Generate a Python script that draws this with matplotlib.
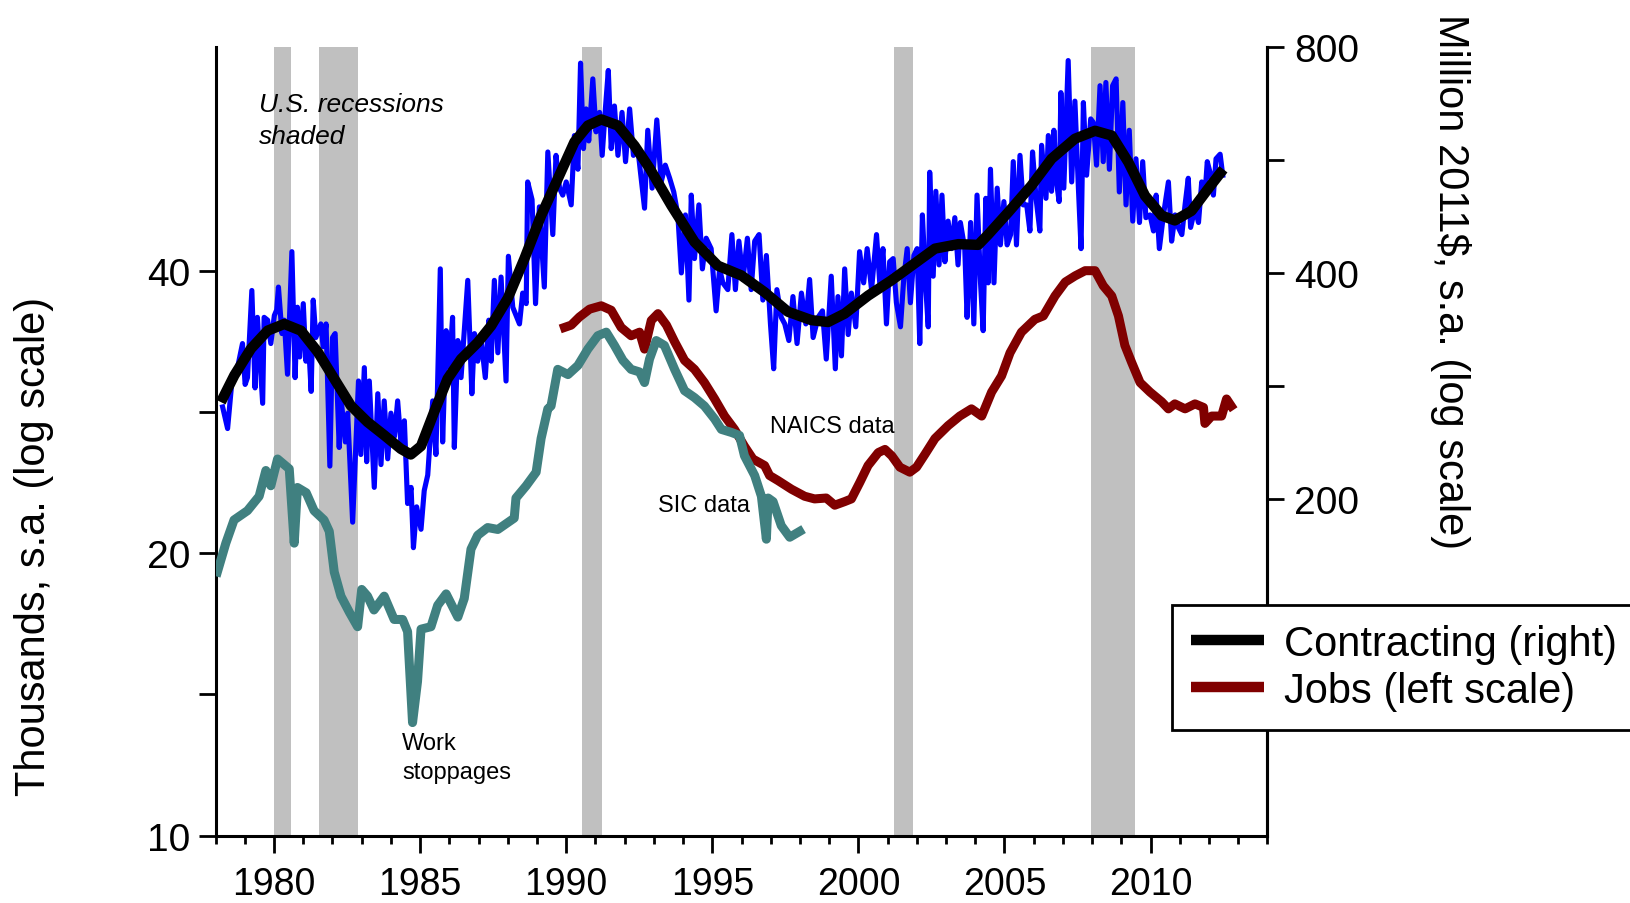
import matplotlib
matplotlib.use('Agg')
import matplotlib.pyplot as plt
from matplotlib.lines import Line2D
from matplotlib.ticker import NullLocator

plt.rcParams['font.family'] = ['Liberation Sans', 'DejaVu Sans']

# U.S. recessions (shaded)
rec_start = [1980.0, 1981.55, 1990.54, 2001.21, 2007.96]
rec_end = [1980.58, 1982.88, 1991.22, 2001.87, 2009.47]

# Jobs, SIC data (thousands, left scale)
sic_yr = [1978.06, 1978.35, 1978.63, 1979.09, 1979.49, 1979.72, 1979.89, 1980.12, 1980.52,
          1980.69, 1980.8, 1981.1, 1981.37, 1981.71, 1981.89, 1982.06, 1982.29, 1982.58,
          1982.86, 1983.0, 1983.2, 1983.42, 1983.77, 1984.11, 1984.4, 1984.57, 1984.74,
          1984.91, 1985.03, 1985.37, 1985.6, 1985.89, 1986.29, 1986.51, 1986.74, 1986.97,
          1987.31, 1987.66, 1988.22, 1988.28, 1988.63, 1988.97, 1989.14, 1989.37, 1989.48,
          1989.71, 1990.06, 1990.4, 1990.74, 1991.08, 1991.37, 1991.65, 1991.94, 1992.22,
          1992.51, 1992.68, 1992.85, 1993.08, 1993.36, 1993.71, 1994.05, 1994.39, 1994.73,
          1995.08, 1995.31, 1995.65, 1995.93, 1996.1, 1996.45, 1996.68, 1996.85, 1996.91,
          1997.08, 1997.36, 1997.65, 1997.99]
sic_val = [19.1, 20.5, 21.7, 22.2, 23.0, 24.5, 23.6, 25.2, 24.6,
           20.5, 23.5, 23.2, 22.2, 21.7, 21.1, 19.1, 18.0, 17.3,
           16.7, 18.3, 18.0, 17.4, 18.0, 17.0, 17.0, 16.5, 13.2,
           14.6, 16.6, 16.7, 17.6, 18.1, 17.1, 17.9, 20.2, 20.9,
           21.3, 21.2, 21.8, 22.9, 23.6, 24.4, 26.5, 28.5, 28.7,
           31.4, 31.0, 31.7, 33.0, 34.1, 34.4, 33.3, 32.1, 31.4,
           31.2, 30.4, 32.2, 33.7, 33.3, 31.4, 29.8, 29.3, 28.7,
           27.8, 27.1, 26.9, 26.7, 25.4, 24.2, 23.0, 20.7, 22.9,
           22.7, 21.4, 20.8, 21.1]

# Jobs, NAICS data (thousands, left scale)
naics_yr = [1989.94, 1990.17, 1990.45, 1990.8, 1991.2, 1991.54, 1991.88, 1992.22, 1992.51,
            1992.68, 1992.91, 1993.14, 1993.43, 1993.71, 1994.05, 1994.39, 1994.73, 1995.08,
            1995.42, 1995.76, 1996.1, 1996.39, 1996.79, 1996.96, 1997.25, 1997.71, 1998.16,
            1998.5, 1998.9, 1999.19, 1999.53, 1999.76, 2000.05, 2000.33, 2000.68, 2000.91,
            2001.14, 2001.42, 2001.76, 2001.99, 2002.28, 2002.62, 2003.07, 2003.47, 2003.87,
            2004.22, 2004.56, 2004.9, 2005.19, 2005.58, 2006.04, 2006.33, 2006.73, 2007.08,
            2007.42, 2007.76, 2008.1, 2008.38, 2008.67, 2008.9, 2009.12, 2009.35, 2009.64,
            2009.98, 2010.38, 2010.61, 2010.83, 2011.18, 2011.52, 2011.81, 2011.86, 2012.09,
            2012.43, 2012.6, 2012.76]
naics_val = [34.8, 35.0, 35.7, 36.4, 36.7, 36.3, 34.8, 34.1, 34.4,
             33.0, 35.4, 36.0, 35.0, 33.6, 32.1, 31.4, 30.4, 29.2,
             28.0, 27.1, 26.0, 25.2, 24.8, 24.2, 23.9, 23.4, 23.0,
             22.85, 22.9, 22.5, 22.7, 22.85, 23.8, 24.8, 25.6, 25.8,
             25.4, 24.7, 24.4, 24.7, 25.5, 26.5, 27.35, 28.0, 28.5,
             28.0, 29.7, 30.9, 32.7, 34.4, 35.5, 35.8, 37.6, 38.9,
             39.5, 40.0, 40.0, 38.55, 37.6, 35.8, 33.3, 31.95, 30.4,
             29.7, 29.0, 28.5, 28.85, 28.5, 28.85, 28.6, 27.5, 28.0,
             28.0, 29.2, 28.7]

# Contracting, monthly (million 2011$, right scale)
blue_yr = [1978.24, 1978.41, 1978.58, 1978.75, 1978.92, 1979.01, 1979.09, 1979.24, 1979.35,
           1979.43, 1979.61, 1979.66, 1979.78, 1979.89, 1980.01, 1980.09, 1980.15, 1980.27,
           1980.35, 1980.46, 1980.61, 1980.72, 1980.8, 1980.88, 1981.0, 1981.09, 1981.17,
           1981.27, 1981.34, 1981.43, 1981.6, 1981.68, 1981.78, 1981.91, 1982.0, 1982.09,
           1982.23, 1982.29, 1982.44, 1982.52, 1982.69, 1982.89, 1982.97, 1983.09, 1983.17,
           1983.26, 1983.43, 1983.55, 1983.66, 1983.77, 1983.89, 1984.0, 1984.12, 1984.23,
           1984.34, 1984.46, 1984.57, 1984.69, 1984.77, 1984.88, 1985.03, 1985.14, 1985.26,
           1985.43, 1985.54, 1985.69, 1985.77, 1985.89, 1986.0, 1986.11, 1986.17, 1986.29,
           1986.4, 1986.63, 1986.77, 1986.86, 1986.97, 1987.09, 1987.23, 1987.35, 1987.43,
           1987.54, 1987.66, 1987.77, 1987.94, 1988.02, 1988.17, 1988.4, 1988.51, 1988.63,
           1988.68, 1988.83, 1988.95, 1989.08, 1989.25,
           1989.37, 1989.54, 1989.65, 1989.77, 1989.88, 1990.0, 1990.17, 1990.28, 1990.4,
           1990.49, 1990.59, 1990.68, 1990.77, 1990.91, 1991.02, 1991.14, 1991.23, 1991.34,
           1991.44, 1991.54, 1991.65, 1991.77, 1991.91, 1992.03, 1992.17, 1992.3, 1992.45,
           1992.68, 1992.79, 1992.94, 1993.1, 1993.25, 1993.39, 1993.54, 1993.68, 1993.82,
           1993.94, 1994.08, 1994.2, 1994.28, 1994.39, 1994.54, 1994.66, 1994.79, 1994.96,
           1995.13, 1995.25, 1995.36, 1995.53, 1995.67, 1995.79, 1995.91, 1996.05, 1996.2,
           1996.33, 1996.45, 1996.6, 1996.73, 1996.85, 1996.99, 1997.1, 1997.21, 1997.36,
           1997.48, 1997.62, 1997.76, 1997.9, 1998.05, 1998.2, 1998.33, 1998.45, 1998.62,
           1998.77, 1998.9, 1999.07, 1999.21, 1999.3, 1999.42, 1999.53, 1999.65, 1999.76,
           1999.91, 2000.04, 2000.18, 2000.3, 2000.45, 2000.62, 2000.73, 2000.84, 2000.96,
           2001.07, 2001.19, 2001.3, 2001.44, 2001.55, 2001.67, 2001.78, 2001.9, 2002.01,
           2002.1, 2002.19, 2002.31, 2002.39, 2002.44, 2002.56, 2002.65, 2002.76, 2002.86,
           2002.96, 2003.07, 2003.19, 2003.3, 2003.41, 2003.49, 2003.64, 2003.72, 2003.84,
           2003.95, 2004.06, 2004.18, 2004.27, 2004.36, 2004.44, 2004.52, 2004.64, 2004.75,
           2004.86, 2004.98, 2005.09, 2005.21, 2005.3, 2005.41, 2005.53, 2005.64, 2005.76,
           2005.87, 2005.96, 2006.08, 2006.21, 2006.27, 2006.42, 2006.5, 2006.61, 2006.69,
           2006.78, 2006.87, 2006.93, 2007.03, 2007.18, 2007.3, 2007.41, 2007.53, 2007.62,
           2007.7, 2007.81, 2007.95, 2008.04, 2008.15, 2008.27, 2008.38, 2008.47, 2008.59,
           2008.7, 2008.82, 2008.93, 2009.05, 2009.16, 2009.27, 2009.39, 2009.5, 2009.62,
           2009.73, 2009.84, 2009.98, 2010.1, 2010.19, 2010.3, 2010.44, 2010.61, 2010.72,
           2010.84, 2010.95, 2011.07, 2011.18, 2011.29, 2011.37, 2011.52, 2011.64, 2011.75,
           2011.87, 2011.94, 2012.06, 2012.15, 2012.24, 2012.38, 2012.47]
blue_val = [265, 248, 293, 299, 322, 284, 290, 379, 281,
            349, 268, 349, 346, 322, 351, 357, 383, 332,
            346, 293, 427, 290, 360, 309, 364, 305, 328,
            278, 368, 328, 342, 319, 342, 221, 328, 332,
            234, 273, 238, 260, 186, 287, 229, 299, 224,
            287, 207, 276, 222, 270, 226, 260, 242, 270,
            238, 254, 197, 207, 172, 195, 182, 205, 215,
            270, 229, 405, 238, 335, 299, 349, 234, 325,
            290, 391, 276, 332, 305, 325, 290, 346, 305,
            391, 313, 395, 287, 421, 360, 342, 376, 364,
            529, 501, 364, 490, 383,
            580, 450, 574, 519, 508, 529, 493, 610, 550,
            762, 586, 662, 600, 726, 617, 655, 574, 662,
            745, 586, 668, 574, 655, 563, 662, 574, 586,
            488, 620, 519, 640, 529, 557, 535, 513, 478,
            400, 478, 368, 508, 418, 493, 405, 445, 431,
            356, 405, 388, 380, 450, 380, 441, 392, 445,
            380, 441, 450, 368, 422, 342, 298, 380, 349,
            342, 325, 372, 322, 376, 342, 392, 328, 349,
            356, 307, 396, 298, 372, 310, 405, 331, 376,
            339, 427, 388, 431, 380, 450, 388, 431, 342,
            414, 418, 365, 339, 392, 431, 365, 422, 431,
            322, 478, 380, 339, 545, 396, 514, 410, 508,
            414, 469, 431, 474, 410, 467, 431, 349, 467,
            342, 508, 388, 335, 503, 388, 550, 388, 519,
            436, 498, 436, 450, 563, 436, 574, 493, 493,
            455, 580, 503, 455, 592, 503, 610, 514, 620,
            529, 498, 696, 519, 768, 529, 678, 519, 431,
            675, 540, 642, 635, 557, 711, 563, 718, 550,
            711, 726, 513, 675, 493, 620, 469, 568, 467,
            563, 474, 478, 455, 508, 431, 478, 529, 441,
            478, 460, 450, 493, 535, 460, 488, 467, 529,
            514, 563, 540, 508, 568, 576, 540]

# Contracting, smoothed (million 2011$, right scale)
trend_yr = [1978.18, 1978.64, 1979.21, 1979.78, 1980.35, 1980.92, 1981.49, 1982.06, 1982.63,
            1983.2, 1983.77, 1984.34, 1984.68, 1985.03, 1985.48, 1985.94, 1986.4, 1986.97,
            1987.43, 1988.0, 1988.57, 1989.14, 1989.71, 1990.28, 1990.74, 1991.2, 1991.77,
            1992.34, 1992.85, 1993.6, 1994.39, 1995.19, 1995.99, 1996.79, 1997.59, 1998.39,
            1998.96, 1999.53, 2000.33, 2001.13, 2001.82, 2002.62, 2003.42, 2004.1, 2004.44,
            2005.13, 2005.92, 2006.61, 2007.41, 2008.1, 2008.67, 2009.24, 2009.81, 2010.38,
            2010.83, 2011.4, 2011.97, 2012.49]
trend_val = [269, 292, 317, 335, 342, 335, 314, 289, 266,
             253, 243, 233, 229, 235, 261, 289, 307, 323,
             340, 370, 418, 477, 534, 598, 629, 641, 629,
             591, 552, 492, 440, 409, 397, 377, 355, 346,
             344, 353, 373, 391, 409, 431, 437, 436, 450,
             482, 523, 568, 604, 619, 610, 562, 507, 477,
             470, 484, 518, 550]

fig = plt.figure(figsize=(16.31, 9.04), dpi=100)
ax = fig.add_axes([0.1322, 0.0744, 0.6449, 0.8722])

for s, e in zip(rec_start, rec_end):
    ax.axvspan(s, e, color='#c0c0c0', lw=0, zorder=0)

ax.plot(naics_yr, naics_val, color='#800000', lw=6.5, solid_joinstyle='round', zorder=2)
ax.plot(sic_yr, sic_val, color='#408080', lw=6.5, solid_joinstyle='round', zorder=3)

ax.set_yscale('log')
ax.set_ylim(10, 69.2)
ax.set_xlim(1978, 2014)
ax.set_yticks([10, 14.142, 20, 28.284, 40])
ax.set_yticklabels(['10', '', '20', '', '40'])
ax.yaxis.set_minor_locator(NullLocator())
ax.set_xticks(list(range(1980, 2011, 5)))
ax.set_xticks([y for y in range(1978, 2015) if y % 5 != 0], minor=True)
ax.tick_params(axis='both', which='major', length=12, width=2, labelsize=28, pad=6)
ax.tick_params(axis='x', which='major', labelsize=27, pad=10)
ax.tick_params(axis='x', which='minor', length=6, width=2)

ax2 = ax.twinx()
ax2.plot(blue_yr, blue_val, color='#0000ff', lw=3.7, zorder=2)
ax2.plot(trend_yr, trend_val, color='black', lw=7.5, solid_capstyle='butt', zorder=3)
ax2.set_yscale('log')
ax2.set_ylim(71, 800)
ax2.set_yticks([141.42, 200, 282.84, 400, 565.69, 800])
ax2.set_yticklabels(['', '200', '', '400', '', '800'])
ax2.yaxis.set_minor_locator(NullLocator())
ax2.tick_params(axis='y', which='major', length=12, width=2, labelsize=28, pad=7)

for a in (ax, ax2):
    a.spines['top'].set_visible(False)
    for side in ('left', 'right', 'bottom'):
        a.spines[side].set_linewidth(2.2)
ax2.spines['left'].set_visible(False)
ax2.spines['bottom'].set_visible(False)

fig.text(0.0208, 0.396, 'Thousands, s.a. (log scale)', rotation=90,
         ha='center', va='center', fontsize=30)
fig.text(0.8896, 0.689, 'Million 2011$, s.a. (log scale)', rotation=-90,
         ha='center', va='center', fontsize=30)

ax.text(0.0413, 0.943, 'U.S. recessions\nshaded', transform=ax.transAxes,
        fontsize=19, style='italic', ha='left', va='top', linespacing=1.4)
ax.text(0.527, 0.512, 'NAICS data', transform=ax.transAxes, fontsize=17,
        ha='left', va='baseline')
ax.text(0.4206, 0.4118, 'SIC data', transform=ax.transAxes, fontsize=17,
        ha='left', va='baseline')
ax.text(0.1772, 0.132, 'Work\nstoppages', transform=ax.transAxes, fontsize=17,
        ha='left', va='top', linespacing=1.45)

handles = [Line2D([], [], color='black', lw=7.5, solid_capstyle='butt'),
           Line2D([], [], color='#800000', lw=7.5, solid_capstyle='butt')]
leg = fig.legend(handles, ['Contracting (right)', 'Jobs (left scale)'],
                 loc='upper left', bbox_to_anchor=(1172 / 1631, 1 - 606 / 904),
                 fontsize=30, frameon=True, fancybox=False, edgecolor='black',
                 framealpha=1, borderpad=0.45, labelspacing=0.17,
                 handlelength=1.75, handletextpad=0.5, borderaxespad=0)
leg.get_frame().set_linewidth(2)

fig.savefig('out.png', dpi=100)
